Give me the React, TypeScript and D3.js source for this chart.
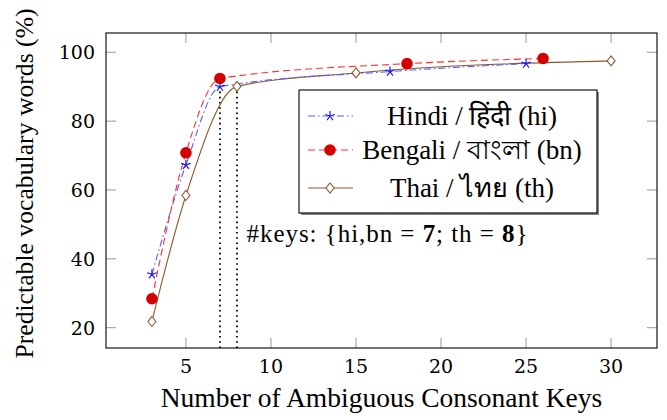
import * as d3 from "d3";
import * as React from "react";

// values
const hindiX = [3, 5, 7, 17, 25];
const hindiY = [35.5, 67.3, 90.0, 94.4, 96.7];
const bengaliX = [3, 5, 7, 18, 26];
const bengaliY = [28.4, 70.8, 92.4, 96.7, 98.2];
const thaiX = [3, 5, 8, 15, 30];
const thaiY = [21.8, 58.4, 90.1, 94.0, 97.5];
const xTicks = [5, 10, 15, 20, 25, 30];
const yTicks = [20, 40, 60, 80, 100];
const keyLinesX = [7, 8];
const keyLinesY = [90.0, 90.1];
const legendLabels = ["Hindi / हिंदी (hi)", "Bengali / বাংলা (bn)", "Thai / ไทย (th)"];

const W = 667, H = 420;
const margin = { top: 33, right: 10, bottom: 72, left: 106 };
const serif = "Liberation Serif, Times New Roman, serif";
const tickFont = "DejaVu Serif, serif";

const zip = (xs: number[], ys: number[]) => xs.map((x, i) => ({ x, y: ys[i] }));

function Star({ cx, cy, r, color }) {
  const arms = d3.range(5).map((i) => {
    const a = -Math.PI / 2 + (i * 2 * Math.PI) / 5;
    return `M${cx},${cy}L${cx + r * Math.cos(a)},${cy + r * Math.sin(a)}`;
  });
  return <path d={arms.join("")} stroke={color} strokeWidth={1.2} fill="none" />;
}

function Diamond({ cx, cy, color }) {
  const w = 4, h = 5;
  return (
    <path
      d={`M${cx},${cy - h}L${cx + w},${cy}L${cx},${cy + h}L${cx - w},${cy}Z`}
      fill="white"
      stroke={color}
      strokeWidth={1.1}
    />
  );
}

export default function App() {
  const w = W - margin.left - margin.right;
  const h = H - margin.top - margin.bottom;

  const x = d3.scaleLinear().domain([0.3, 32.7]).range([0, w]);
  const y = d3.scaleLinear().domain([14.1, 105.6]).range([h, 0]);

  const line = d3
    .line<{ x: number; y: number }>()
    .x((d) => x(d.x))
    .y((d) => y(d.y))
    .curve(d3.curveMonotoneX);

  const hindi = zip(hindiX, hindiY);
  const bengali = zip(bengaliX, bengaliY);
  const thai = zip(thaiX, thaiY);

  const blue = "#1a1aff";
  const blueLine = "#5c5cff";
  const red = "#d40000";
  const redLine = "#ff3030";
  const brown = "#8a5a2e";

  const tickColor = "#999";
  const legend = { x: 299 - margin.left, y: 90 - margin.top, w: 298, h: 123 };
  const rowsY = [26, 60, 98];

  return (
    <svg width={W} height={H} style={{ position: "absolute", left: 0, top: 0 }}>
      <rect width={W} height={H} fill="white" />
      <g transform={`translate(${margin.left},${margin.top})`}>
        {/* ticks on all four sides */}
        {xTicks.map((t) => (
          <g key={"xt" + t}>
            <line x1={x(t)} x2={x(t)} y1={h} y2={h - 10} stroke={tickColor} />
            <line x1={x(t)} x2={x(t)} y1={0} y2={10} stroke={tickColor} />
            <text x={x(t)} y={h + 25} textAnchor="middle" fontFamily={tickFont} fontSize={19}>
              {t}
            </text>
          </g>
        ))}
        {yTicks.map((t) => (
          <g key={"yt" + t}>
            <line x1={0} x2={10} y1={y(t)} y2={y(t)} stroke={tickColor} />
            <line x1={w} x2={w - 10} y1={y(t)} y2={y(t)} stroke={tickColor} />
            <text x={-11} y={y(t) + 7} textAnchor="end" fontFamily={tickFont} fontSize={19}>
              {t}
            </text>
          </g>
        ))}

        {/* dotted guides at the chosen key counts */}
        {keyLinesX.map((k, i) => (
          <line
            key={"k" + k}
            x1={x(k)}
            x2={x(k)}
            y1={h}
            y2={y(keyLinesY[i])}
            stroke="black"
            strokeWidth={1.8}
            strokeDasharray="1.6 3.6"
          />
        ))}

        <path d={line(thai)!} fill="none" stroke={brown} strokeWidth={1.1} />
        <path d={line(hindi)!} fill="none" stroke={blueLine} strokeWidth={1.1} strokeDasharray="7 3 1.5 3" />
        <path d={line(bengali)!} fill="none" stroke={redLine} strokeWidth={1.1} strokeDasharray="7 4" />

        {thai.map((d) => (
          <Diamond key={"t" + d.x} cx={x(d.x)} cy={y(d.y)} color={brown} />
        ))}
        {hindi.map((d) => (
          <Star key={"h" + d.x} cx={x(d.x)} cy={y(d.y)} r={5} color={blue} />
        ))}
        {bengali.map((d) => (
          <circle key={"b" + d.x} cx={x(d.x)} cy={y(d.y)} r={5.8} fill={red} />
        ))}

        <text
          x={246.5 - margin.left}
          y={242 - margin.top}
          fontFamily={serif}
          fontSize={25}
          textLength={281}
          lengthAdjust="spacing"
        >
          #keys: {"{"}hi,bn = <tspan fontWeight="bold">7</tspan>; th = <tspan fontWeight="bold">8</tspan>
          {"}"}
        </text>

        {/* legend */}
        <g transform={`translate(${legend.x},${legend.y})`}>
          <rect x={2} y={2} width={legend.w} height={legend.h} fill="#888" />
          <rect width={legend.w} height={legend.h} fill="white" stroke="black" strokeWidth={1.1} />
          {legendLabels.map((lab, i) => {
            const ly = rowsY[i];
            return (
              <g key={lab}>
                {i === 0 && (
                  <>
                    <line x1={9} x2={54} y1={ly} y2={ly} stroke={blueLine} strokeWidth={1.1} strokeDasharray="7 3 1.5 3" />
                    <Star cx={31} cy={ly} r={5} color={blue} />
                  </>
                )}
                {i === 1 && (
                  <>
                    <line x1={9} x2={54} y1={ly} y2={ly} stroke={redLine} strokeWidth={1.1} strokeDasharray="7 4" />
                    <circle cx={31} cy={ly} r={5.8} fill={red} />
                  </>
                )}
                {i === 2 && (
                  <>
                    <line x1={9} x2={54} y1={ly} y2={ly} stroke={brown} strokeWidth={1.1} />
                    <Diamond cx={31} cy={ly} color={brown} />
                  </>
                )}
                <text x={173} y={ly + 9} textAnchor="middle" fontFamily={serif} fontSize={27}>
                  {lab}
                </text>
              </g>
            );
          })}
        </g>

        <rect width={w} height={h} fill="none" stroke="black" strokeWidth={1.1} />
      </g>

      <text x={381.5} y={407} textAnchor="middle" fontFamily={serif} fontSize={27.5}>
        Number of Ambiguous Consonant Keys
      </text>
      <text
        transform={`translate(33,183.5) rotate(-90)`}
        textAnchor="middle"
        fontFamily={serif}
        fontSize={25.7}
      >
        Predictable vocabulary words (%)
      </text>
    </svg>
  );
}
